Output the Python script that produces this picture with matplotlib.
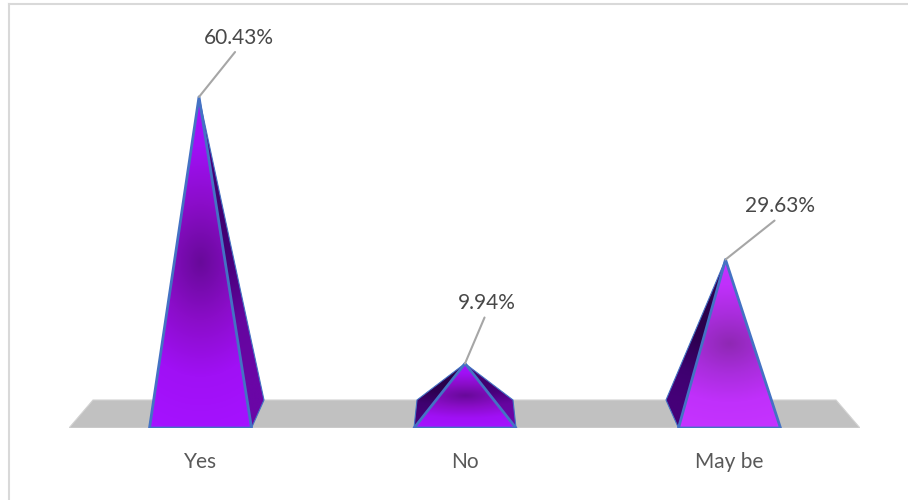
#!/usr/bin/env python
import matplotlib
matplotlib.use('agg')
import matplotlib.pyplot as plt
from matplotlib.colors import LinearSegmentedColormap
from matplotlib.patches import Polygon
import numpy as np

plt.rcParams['font.family'] = ['Lato', 'DejaVu Sans']

categories = ["Yes", "No", "May be"]
values = [60.43, 9.94, 29.63]
labels = ["60.43%", "9.94%", "29.63%"]

W, H = 908, 500
# plot area in pixels, and scale of the value axis
left_px, right_px = 69, 860
base_px = 428        # front edge of the floor
back_px = 400        # back edge of the floor
zero_px = 416        # value 0
px_per_unit = 5.28
cat_px = [200.5, 465, 729]
cat_step = cat_px[1] - cat_px[0]
half_w = 51 / cat_step       # half width of the front of a pyramid, category units
back_w = 48 / cat_step       # half width of the back
lean = 15.5 / cat_step       # back moves towards the middle category
apex_shift = [-1.5 / cat_step, 0, -4 / cat_step]

top_px = 10
fig = plt.figure(figsize=(W / 100, H / 100), dpi=100)
ax = fig.add_axes([left_px / W, 1 - base_px / H, (right_px - left_px) / W, (base_px - top_px) / H])
ax.set_xlim((left_px - cat_px[0]) / cat_step, (right_px - cat_px[0]) / cat_step)
ax.set_ylim((zero_px - base_px) / px_per_unit, (zero_px - top_px) / px_per_unit)
ax.patch.set_visible(False)
for s in ax.spines.values():
    s.set_visible(False)
ax.set_yticks([])
ax.set_xticks(range(len(categories)))
ax.set_xticklabels(categories, fontsize=15, color='#595959')
ax.tick_params(axis='x', length=0, pad=17.5)

# border of the chart area, only top and left are visible
fig.add_artist(plt.Line2D([9 / W, 9 / W], [0, 1 - 3.5 / H], color='#d9d9d9', lw=1.5))
fig.add_artist(plt.Line2D([9 / W, 1], [1 - 3.5 / H, 1 - 3.5 / H], color='#d9d9d9', lw=1.5))

y_front = ax.get_ylim()[0]
y_back = (zero_px - back_px) / px_per_unit
x0, x1 = ax.get_xlim()
floor_inset = 24 / cat_step
ax.add_patch(Polygon([(x0, y_front), (x1, y_front), (x1 - floor_inset, y_back), (x0 + floor_inset, y_back)],
                     closed=True, fc='#c1c1c1', ec='#d2d2d2', lw=0.8, zorder=1))


def shade(poly, cmap, extent, centre, zorder):
    """radial gradient clipped to a polygon"""
    xx, yy = np.meshgrid(np.linspace(extent[0], extent[1], 200), np.linspace(extent[2], extent[3], 400))
    rx = (extent[1] - extent[0]) * 0.9
    ry = (extent[3] - extent[2]) * 0.52
    d = np.clip(np.hypot((xx - centre[0]) / rx, (yy - centre[1]) / ry), 0, 1)
    im = ax.imshow(d, origin='lower', extent=extent, cmap=cmap, vmin=0, vmax=1, aspect='auto',
                   interpolation='bilinear', zorder=zorder)
    im.set_clip_path(poly)


face_cmaps = [
    LinearSegmentedColormap.from_list('f0', ['#68099a', '#8a0dc8', '#a010f5', '#a512ff']),
    LinearSegmentedColormap.from_list('f1', ['#68099a', '#8a0dc8', '#a010f5', '#a512ff']),
    LinearSegmentedColormap.from_list('f2', ['#8f28b4', '#a92ddc', '#c030fb', '#c533ff']),
]
right_cmap = LinearSegmentedColormap.from_list('r', ['#3c0068', '#48007c', '#65059f', '#6a06a6'])
left_cmap = LinearSegmentedColormap.from_list('l', ['#270045', '#2e0052', '#3e0070', '#450078'])
edge = '#4472c4'

for i, v in enumerate(values):
    apex = (i + apex_shift[i], v)
    fl = (i - half_w, y_front)
    fr = (i + half_w, y_front)
    bl = (i - back_w + (1 - i) * lean, y_back)
    br = (i + back_w + (1 - i) * lean, y_back)
    # visible side faces, drawn behind the front face
    sides = []
    if i <= 1:
        sides.append(([fr, br, apex], right_cmap))
    if i >= 1:
        sides.append(([fl, bl, apex], left_cmap))
    for pts, cm in sides:
        p = Polygon(pts, closed=True, fc='none', ec='none', zorder=2)
        ax.add_patch(p)
        shade(p, cm, (i - 0.3, i + 0.3, y_front, v), (i, v * 0.62), 2)
        ax.add_patch(Polygon(pts, closed=True, fc='none', ec=edge, lw=0.8, joinstyle='round', zorder=3))
    p = Polygon([fl, fr, apex], closed=True, fc='none', ec='none', zorder=4)
    ax.add_patch(p)
    shade(p, face_cmaps[i], (i - 0.25, i + 0.25, y_front, v), (i, (y_front + v) * 0.5), 4)
    ax.add_patch(Polygon([fl, fr, apex], closed=True, fc='none', ec=edge, lw=2, joinstyle='round', zorder=5))

ax.set_xlim(x0, x1)
ax.set_ylim(y_front, (zero_px - top_px) / px_per_unit)

# data labels with leader lines, offsets in points from the apex
offsets = [(28.5, 35.5), (15.5, 36.5), (39, 31)]
for i, v in enumerate(values):
    ax.annotate(labels[i], xy=(i + apex_shift[i], v), xytext=offsets[i], textcoords='offset points', fontsize=15,
                color='#484848', ha='center', va='bottom', annotation_clip=False,
                arrowprops=dict(arrowstyle='-', color='#a6a6a6', lw=1.5, shrinkA=1.5, shrinkB=0, relpos=(0.5, 0)),
                zorder=6)

plt.savefig('out.png', dpi=100)
